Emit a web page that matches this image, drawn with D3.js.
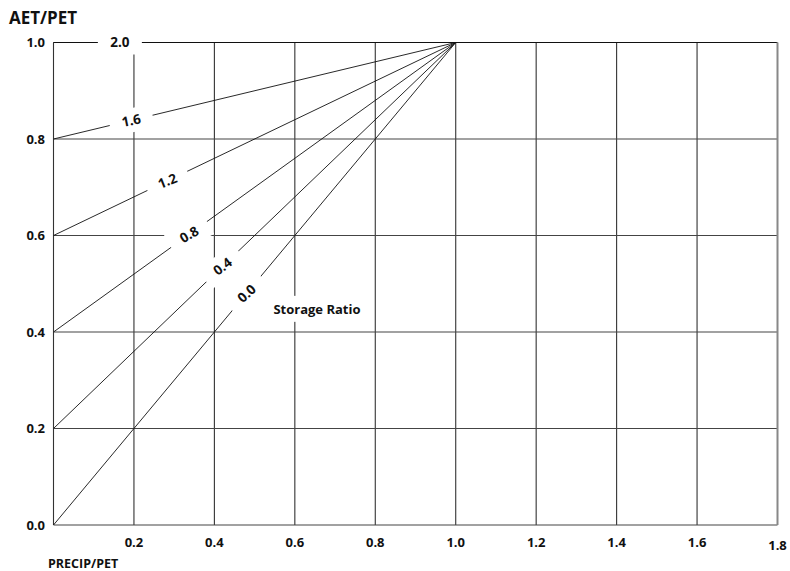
<!DOCTYPE html>
<html><head><meta charset="utf-8">
<script src="https://cdn.jsdelivr.net/npm/d3@7"></script>
<style>body{margin:0;background:#fff;} svg{display:block;}</style>
</head><body>
<svg id="c" width="790" height="571"></svg>
<script>
// Data
const storageRatios = ["2.0", "1.6", "1.2", "0.8", "0.4", "0.0"];
const intercepts = [1.0, 0.8, 0.6, 0.4, 0.2, 0.0]; // AET/PET at PRECIP/PET = 0
const meetPoint = [1.0, 1.0];                      // all lines meet here
const labelAt = [0.165, 0.193, 0.283, 0.337, 0.42, 0.48]; // PRECIP/PET of label
const xTicks = [0.2, 0.4, 0.6, 0.8, 1.0, 1.2, 1.4, 1.6, 1.8];
const yTicks = [0.0, 0.2, 0.4, 0.6, 0.8, 1.0];
const xGrid = [0, 0.2, 0.4, 0.6, 0.8, 1.0, 1.2, 1.4, 1.6];

const svg = d3.select("#c");
const x = d3.scaleLinear().domain([0, 1.8]).range([53.5, 777.5]);
const y = d3.scaleLinear().domain([0, 1]).range([525, 42.5]);
const font = "'Open Sans', Lato, sans-serif";

// grid
svg.append("g").selectAll("line").data(xGrid).join("line")
  .attr("x1", d => x(d)).attr("x2", d => x(d))
  .attr("y1", y(0)).attr("y2", y(1))
  .attr("stroke", "#333").attr("stroke-width", 1.1);
svg.append("g").selectAll("line").data(yTicks).join("line")
  .attr("x1", x(0)).attr("x2", x(1.8))
  .attr("y1", d => y(d)).attr("y2", d => y(d))
  .attr("stroke", d => d === 1 ? "#111" : "#444").attr("stroke-width", 1.1);
svg.append("line")
  .attr("x1", x(1.8)).attr("x2", x(1.8)).attr("y1", y(1)).attr("y2", y(0))
  .attr("stroke", "#888").attr("stroke-width", 2);

// storage ratio lines
svg.append("g").selectAll("line").data(intercepts).join("line")
  .attr("x1", x(0)).attr("y1", d => y(d))
  .attr("x2", x(meetPoint[0])).attr("y2", y(meetPoint[1]))
  .attr("stroke", "#111").attr("stroke-width", 0.9);

// labels
storageRatios.forEach((lab, i) => {
  const y0 = intercepts[i];
  const px = labelAt[i];
  const py = y0 + (meetPoint[1] - y0) * px / meetPoint[0];
  const cx = x(px), cy = y(py);
  const ang = 0.85 * Math.atan2(y(meetPoint[1]) - y(y0), x(meetPoint[0]) - x(0)) * 180 / Math.PI;
  const g = svg.append("g").attr("transform", `translate(${cx},${cy}) rotate(${ang})`);
  g.append("rect").attr("x", -22).attr("y", -12).attr("width", 44).attr("height", 24).attr("fill", "#fff");
  g.append("text").text(lab).attr("text-anchor", "middle").attr("dy", "0.36em")
    .attr("font-family", font).attr("font-weight", "bold").attr("font-size", 13.5).attr("fill", "#111");
});

// Storage Ratio text
const sr = svg.append("g").attr("transform", `translate(${x(0.655)},${y(0.448)})`);
sr.append("rect").attr("x", -47).attr("y", -13).attr("width", 94).attr("height", 26).attr("fill", "#fff");
sr.append("text").text("Storage Ratio").attr("text-anchor", "middle").attr("dy", "0.36em")
  .attr("font-family", font).attr("font-weight", "bold").attr("font-size", 13).attr("fill", "#111");

// tick labels
svg.append("g").selectAll("text").data(yTicks).join("text")
  .attr("x", 45).attr("y", d => y(d)).attr("dy", "0.36em").attr("text-anchor", "end")
  .attr("font-family", font).attr("font-weight", "bold").attr("font-size", 13).attr("fill", "#111")
  .text(d => d.toFixed(1));
svg.append("g").selectAll("text").data(xTicks).join("text")
  .attr("x", d => x(d)).attr("y", d => d === 1.8 ? 550 : 547).attr("text-anchor", "middle")
  .attr("font-family", font).attr("font-weight", "bold").attr("font-size", 13).attr("fill", "#111")
  .text(d => d.toFixed(1));

// axis titles
svg.append("text").attr("x", 9).attr("y", 24).text("AET/PET")
  .attr("font-family", font).attr("font-weight", "bold").attr("font-size", 17).attr("fill", "#111");
svg.append("text").attr("x", 48).attr("y", 568).text("PRECIP/PET")
  .attr("font-family", font).attr("font-weight", "bold").attr("font-size", 12.5).attr("fill", "#111");
</script>
</body></html>
